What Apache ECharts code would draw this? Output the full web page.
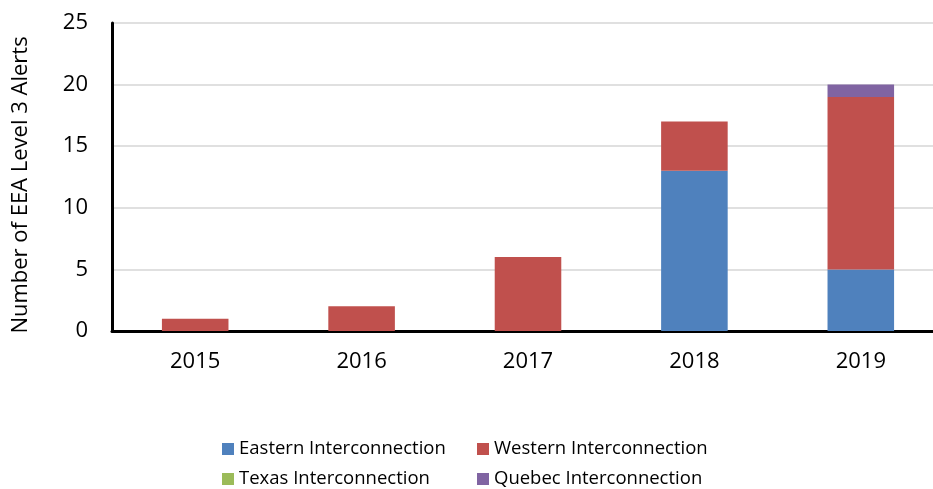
<!DOCTYPE html>
<html>
<head>
<meta charset="utf-8">
<script src="https://cdn.jsdelivr.net/npm/echarts@6/dist/echarts.min.js"></script>
<style>
  html, body { margin: 0; padding: 0; background: #fff; }
  #app { width: 933px; height: 489px; }
</style>
</head>
<body>
<div id="app"></div>
<script>
const years = ["2015", "2016", "2017", "2018", "2019"];
const eastern = [0, 0, 0, 13, 5];
const western = [1, 2, 6, 4, 14];
const texas = [0, 0, 0, 0, 0];
const quebec = [0, 0, 0, 0, 1];

const font = "'Open Sans', 'Noto Sans', sans-serif";
const myChart = echarts.init(document.getElementById("app"));

const bar = (name, data, color) => ({
  name,
  type: "bar",
  stack: "total",
  data,
  barWidth: "40%",
  itemStyle: { color },
});

const legendBase = {
  orient: "vertical",
  padding: 0,
  itemWidth: 12,
  itemHeight: 12,
  itemGap: 10,
  icon: "rect",
  textStyle: { fontFamily: font, fontSize: 18.5, lineHeight: 20, color: "#000" },
};

myChart.setOption({
  animation: false,
  grid: { left: 112, top: 23, width: 832, height: 308, outerBoundsMode: "none" },
  legend: [
    Object.assign({ left: 222, top: 439, data: ["Eastern Interconnection", "Texas Interconnection"] }, legendBase),
    Object.assign({ left: 477, top: 439, data: ["Western Interconnection", "Quebec Interconnection"] }, legendBase),
  ],
  xAxis: {
    type: "category",
    data: years,
    axisLine: { lineStyle: { color: "#000", width: 3 } },
    axisTick: { show: false },
    axisLabel: { fontFamily: font, fontSize: 22, color: "#000", margin: 20 },
  },
  yAxis: {
    type: "value",
    min: 0,
    max: 25,
    interval: 5,
    name: "Number of EEA Level 3 Alerts",
    nameLocation: "middle",
    nameGap: 80,
    nameTextStyle: { fontFamily: font, fontSize: 22, color: "#000", padding: [0, 16, 0, 0] },
    axisLine: { show: true, lineStyle: { color: "#000", width: 3 } },
    axisTick: { show: false },
    axisLabel: { fontFamily: font, fontSize: 22, color: "#000", margin: 24 },
    splitLine: { lineStyle: { color: "#d6d6d6", width: 1.5 } },
  },
  series: [
    bar("Eastern Interconnection", eastern, "#4f81bd"),
    bar("Western Interconnection", western, "#c0504d"),
    bar("Texas Interconnection", texas, "#9bbb59"),
    bar("Quebec Interconnection", quebec, "#8064a2"),
  ],
});
</script>
</body>
</html>
